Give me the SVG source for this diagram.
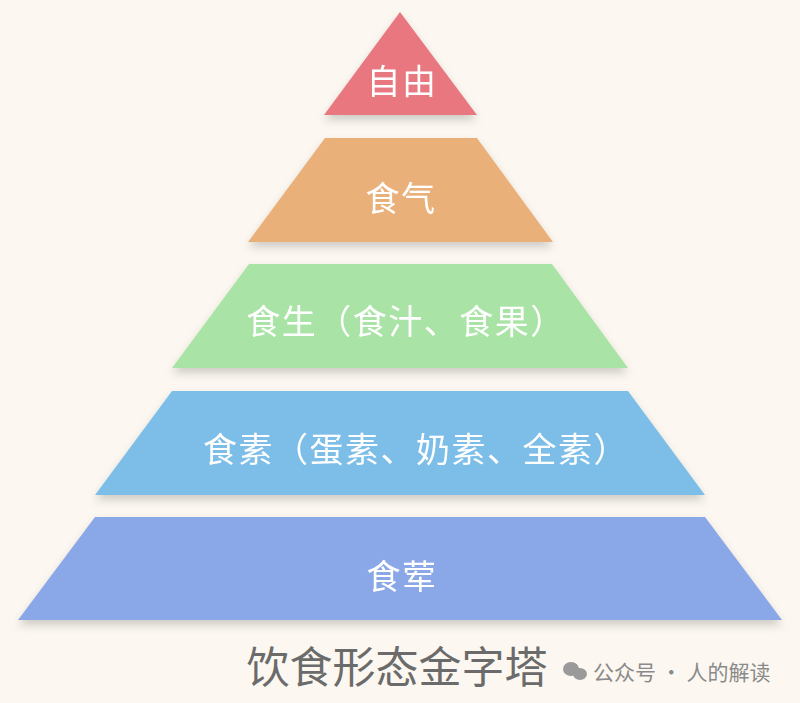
<svg xmlns="http://www.w3.org/2000/svg" width="800" height="703" viewBox="0 0 800 703">
<defs>
<style>
.l{font-family:"Noto Sans CJK SC",sans-serif;fill:#fff;font-size:34px;letter-spacing:1.5px;text-anchor:middle;dominant-baseline:central}
</style>
<filter id="sh" x="-10%" y="-10%" width="120%" height="140%"><feDropShadow dx="0" dy="5" stdDeviation="4" flood-color="#000" flood-opacity="0.18"/></filter>
</defs>
<rect width="800" height="703" fill="#fcf8f1"/>
<g id="n1" filter="url(#sh)"><polygon points="400,12 477,115 324,115" fill="#e8777f"/><text class="l" x="402" y="79">自由</text></g>
<g id="n2" filter="url(#sh)"><polygon points="325,138 477,138 553,242 248,242" fill="#eab07a"/><text class="l" x="401" y="196">食气</text></g>
<g id="n3" filter="url(#sh)"><polygon points="249,264 552,264 628,368 172,368" fill="#a9e4a6"/><text class="l" x="406" y="319">食生（食汁、食果）</text></g>
<g id="n4" filter="url(#sh)"><polygon points="172,391 628,391 705,495 95,495" fill="#7dbee8"/><text class="l" x="416" y="447">食素（蛋素、奶素、全素）</text></g>
<g id="n5" filter="url(#sh)"><polygon points="95,517 705,517 782,620 18,620" fill="#8aa7e7"/><text class="l" x="402" y="574">食荤</text></g>
<g id="connectors"/>
<text x="397" y="683" font-family="Noto Sans CJK SC,sans-serif" font-size="43" fill="#6b6b6b" text-anchor="middle">饮食形态金字塔</text>
<g fill="#9a9a9a"><ellipse cx="571" cy="669" rx="8" ry="7"/><ellipse cx="580" cy="674" rx="7" ry="6"/></g>
<text x="593" y="680" font-family="Noto Sans CJK SC,sans-serif" font-size="21" fill="#8a8a8a">公众号 · 人的解读</text>
</svg>
